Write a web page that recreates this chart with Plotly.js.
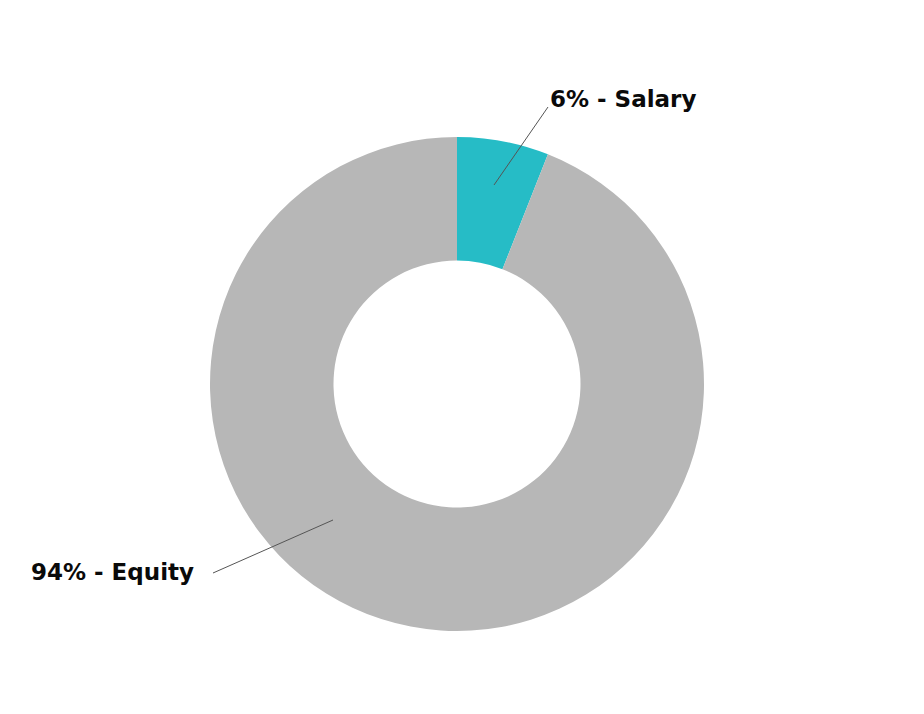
<!DOCTYPE html>
<html>
<head>
<meta charset="utf-8">
<script src="https://cdn.plot.ly/plotly-3.0.1.min.js"></script>
<style>html,body{margin:0;padding:0;background:#fff;}#chart{width:924px;height:714px;}</style>
</head>
<body>
<div id="chart"></div>
<script>
const categories = ["Salary", "Equity"];
const shares = [6, 94];
const sliceColors = ["#26BCC6", "#B7B7B7"];
const labelTexts = categories.map((c, i) => shares[i] + "% - " + c);

const L = 210, T = 137, S = 494;
const px = x => (x - L) / S;
const py = y => (T + S - y) / S;

const data = [{
  type: "pie",
  labels: categories,
  values: shares,
  hole: 0.5,
  sort: false,
  direction: "clockwise",
  rotation: 0,
  textinfo: "none",
  hoverinfo: "label+percent",
  marker: {colors: sliceColors, line: {width: 0}},
  showlegend: false
}];

const font = {family: "'DejaVu Sans', sans-serif", size: 23, color: "#0a0a0a"};
const layout = {
  width: 924, height: 714,
  margin: {l: L, r: 924 - L - S, t: T, b: 714 - T - S},
  paper_bgcolor: "#fff",
  showlegend: false,
  shapes: [
    {type: "line", xref: "paper", yref: "paper", x0: px(548), y0: py(107), x1: px(494), y1: py(185), line: {color: "#555", width: 1}},
    {type: "line", xref: "paper", yref: "paper", x0: px(213), y0: py(573), x1: px(333), y1: py(520), line: {color: "#555", width: 1}}
  ],
  annotations: [
    {xref: "paper", yref: "paper", x: px(548), y: py(99), xanchor: "left", yanchor: "middle", text: "<b>" + labelTexts[0] + "</b>", showarrow: false, font: font},
    {xref: "paper", yref: "paper", x: px(196), y: py(572), xanchor: "right", yanchor: "middle", text: "<b>" + labelTexts[1] + "</b>", showarrow: false, font: font}
  ]
};

Plotly.newPlot("chart", data, layout, {displayModeBar: false});
</script>
</body>
</html>
